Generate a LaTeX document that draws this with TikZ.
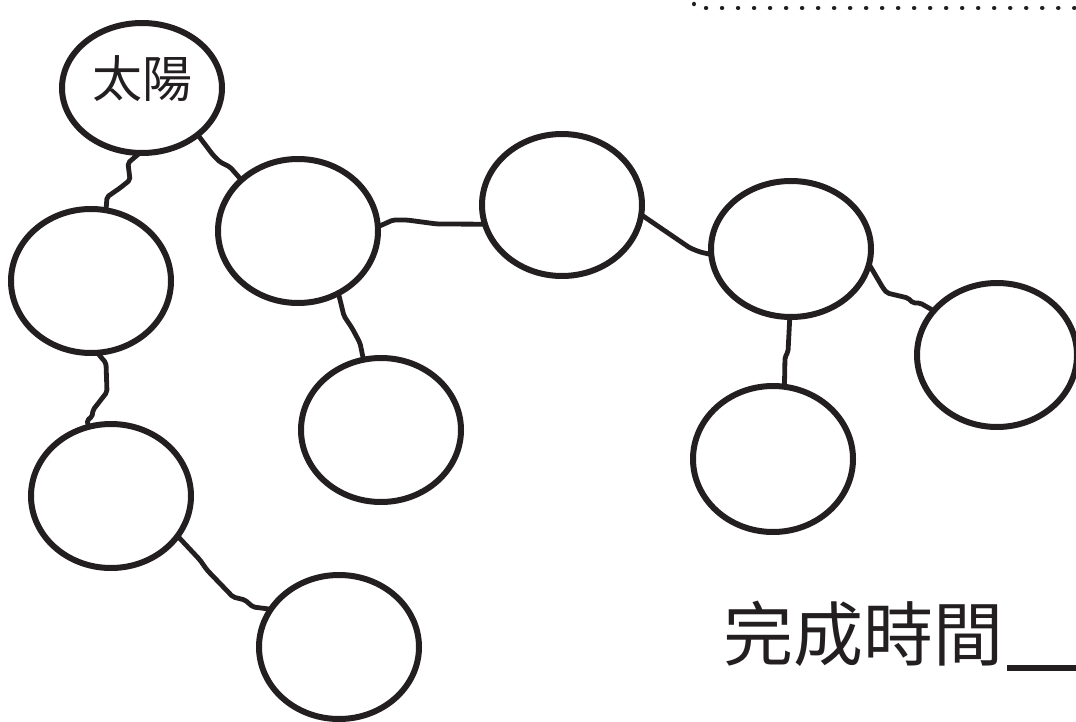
\documentclass[tikz,border=0pt]{standalone}
\usepackage{fontspec}
\newfontfamily\cjk{Noto Sans CJK TC}
\usetikzlibrary{shapes.geometric}
\definecolor{ink}{HTML}{231F20}
\tikzset{
  bubble/.style={ellipse, draw=ink, line width=6pt, inner sep=0pt, outer sep=0pt,
                 minimum width=160pt, minimum height=144pt},
  conn/.style={draw=ink, line width=4.8pt, rounded corners=2pt, line join=round, line cap=round},
}
\begin{document}
\begin{tikzpicture}[x=1pt,y=-1pt]
\useasboundingbox (0,0) rectangle (1076,722);
% bubbles
\node[bubble, minimum width=160pt, minimum height=130pt] (sun) at (142,88) {};
\node[text=ink, font=\cjk\fontsize{50}{50}\selectfont, inner sep=0pt] (sunlbl) at (142,79) {太陽};
\node[bubble] (b) at (91,281) {};
\node[bubble] (c) at (298,231) {};
\node[bubble, minimum height=142pt] (d) at (562,205) {};
\node[bubble, minimum height=136pt] (e) at (791,249) {};
\node[bubble] (f) at (997,355) {};
\node[bubble, minimum height=146pt] (g) at (773,459) {};
\node[bubble] (h) at (381,430) {};
\node[bubble] (i) at (111,496) {};
\node[bubble] (j) at (339,647) {};
% connectors
\draw[conn] (sun.-92) -- (128,163) -- (130,180) -- (120,188) -- (107,197) -- (b.78);
\draw[conn] (sun.-40) -- (213,155) -- (220,162) -- (230,167) -- (c.138);
\draw[conn] (c.-57) -- (344,316) -- (352,328) -- (360,343) -- (h.104);
\draw[conn] (c.3) -- (393,220) -- (407,220) -- (437,224) -- (d.-166);
\draw[conn] (d.-7) -- (690,248) -- (700,252) -- (e.-176);
\draw[conn] (e.-11) -- (883,288) -- (887,293) -- (908,298) -- (913,303) -- (920,303) -- (f.145);
\draw[conn] (e.-91) -- (788,352) -- (785,357) -- (g.81);
\draw[conn] (b.-85) -- (106,363) -- (107,392) -- (93,410) -- (92,417) -- (87,420) -- (i.108);
\draw[conn] (i.-31) -- (200,560) -- (207,570) -- (233,597) -- (245,600) -- (253,607) -- (j.151);
% completion time
\node[text=ink, font=\cjk\fontsize{70}{70}\selectfont, inner sep=0pt, anchor=center] (done) at (863,634) {完成時間};
\coordinate (lineend) at (1080,668);
\draw[ink, line width=5.5pt] (done.east |- lineend) ++(4,0) -- (lineend);
% dotted frame at top
\coordinate (frameA) at (694,-12);
\coordinate (frameB) at (1090,8);
\draw[ink, line width=4.5pt, line cap=round, dash pattern=on 0.01pt off 16pt] (frameA) -- (frameA |- frameB) -- (frameB);
\end{tikzpicture}
\end{document}
